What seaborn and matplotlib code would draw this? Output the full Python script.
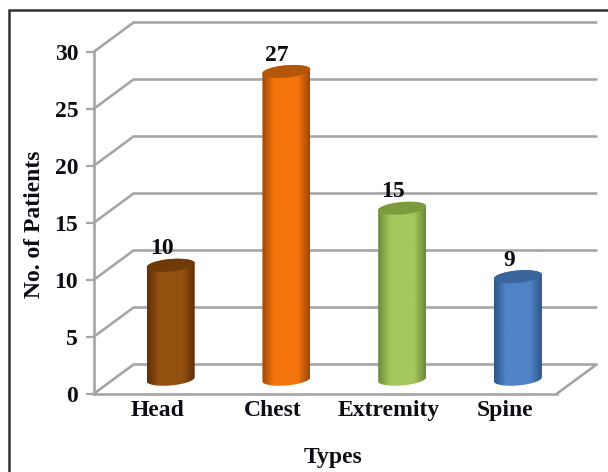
import numpy as np
import pandas as pd
import matplotlib
matplotlib.use("Agg")
import matplotlib.pyplot as plt
import seaborn as sns
from matplotlib.colors import LinearSegmentedColormap
from matplotlib.patches import Rectangle
from matplotlib.transforms import Affine2D

types = ["Head", "Chest", "Extremity", "Spine"]
patients = [10, 27, 15, 9]
body_colors = ["#94500F", "#F5740C", "#A6C75E", "#5084C8"]
edge_colors = ["#5F3008", "#A04A06", "#6E8A3A", "#2F5688"]
cap_colors = ["#6E3A08", "#B4560A", "#7C9A3E", "#3A659C"]
y_ticks = [0, 5, 10, 15, 20, 25, 30]

W, H = 608, 472
LEFT, RIGHT, Y0, Y30 = 93.5, 556.5, 394.0, 52.0
DEPTH_X, DEPTH_Y = 40.0, 29.5
GRID = "#A6A6A6"
INK = "#0C0C14"

sns.set_theme(style="white")
plt.rcParams["font.family"] = ["Liberation Serif", "DejaVu Serif"]
plt.rcParams["font.weight"] = "bold"

fig = plt.figure(figsize=(W / 100, H / 100), dpi=100)
ax = fig.add_axes([LEFT / W, 1 - Y0 / H, (RIGHT - LEFT) / W, (Y0 - Y30) / H])

frame = pd.DataFrame({"Types": types, "Patients": patients})
sns.barplot(data=frame, x="Types", y="Patients", hue="Types", palette=body_colors,
            legend=False, width=48 / 115.75, ax=ax, zorder=3, saturation=1)
ax.set_xlim(-0.5, 3.5)
ax.set_ylim(0, 30)
ax.set_facecolor("none")

px_per_cat = (RIGHT - LEFT) / 4
px_per_unit = (Y0 - Y30) / 30
dx_cat = DEPTH_X / px_per_cat
dy_val = DEPTH_Y / px_per_unit

# Back wall gridlines and the slanted side-wall lines for each tick
for v in y_ticks:
    ax.plot([-0.5, -0.5 + dx_cat, 3.5 + dx_cat], [v, v + dy_val, v + dy_val],
            color=GRID, lw=1.9, clip_on=False, zorder=1, solid_joinstyle="miter")
# Floor edge on the right
ax.plot([3.5, 3.5 + dx_cat], [0, dy_val], color=GRID, lw=1.9, clip_on=False, zorder=1)

for s in ("top", "right"):
    ax.spines[s].set_visible(False)
for s in ("left", "bottom"):
    ax.spines[s].set_color(GRID)
    ax.spines[s].set_linewidth(1.9)

# Cylinders sit halfway into the depth of the floor
shift = Affine2D().translate(DEPTH_X / 2 - 0.7, DEPTH_Y / 2)
for bar, body, edge, cap, value in zip(ax.patches, body_colors, edge_colors, cap_colors, patients):
    bar.set_visible(False)
    x0, w = bar.get_x(), bar.get_width()
    xc = x0 + w / 2
    tr = ax.transData + shift
    cmap = LinearSegmentedColormap.from_list("cyl", [edge, body, body, edge], N=64)
    ramp = np.interp(np.linspace(0, 1, 64), [0, 0.24, 0.5, 0.76, 1], [0, 0.33, 0.5, 0.67, 1])[None, :]
    # Outline of the curved side: straight walls closed by half-ellipses
    t = np.linspace(0, np.pi, 40)
    rx, ry = w / 2, 6.2 / px_per_unit
    slant = 2.0 / px_per_unit
    ex, ey = rx * np.cos(t), ry * np.sin(t) + slant * np.cos(t)
    outline_x = np.r_[xc + ex, xc - ex]
    outline_y = np.r_[value + ey, 0 - ey]
    side = plt.Polygon(np.c_[outline_x, outline_y], closed=True, transform=tr, fc="none", ec="none")
    ax.add_patch(side)
    img = ax.imshow(ramp, extent=[x0, x0 + w, -1, value + 1], cmap=cmap, vmin=0, vmax=1,
                    aspect="auto", transform=tr, zorder=3, interpolation="bilinear")
    img.set_clip_path(side)
    # Darker elliptical cap on top
    cap_x = np.r_[xc + ex, xc - ex]
    cap_y = np.r_[value + ey, value - ey]
    ax.fill(cap_x, cap_y, color=cap, transform=tr, zorder=4, clip_on=False, lw=0)
    ax.text(xc + dx_cat / 2 - 0.085, value + dy_val / 2 + 0.52, str(value), ha="center", va="bottom",
            fontsize=17, fontweight="bold", color=INK, zorder=5, clip_on=False)

ax.set_xlim(-0.5, 3.5)
ax.set_ylim(0, 30)

ax.set_yticks(y_ticks)
ax.set_xticks(range(4), types)
ax.tick_params(axis="y", length=6, width=1.6, color=GRID, labelsize=17, pad=5, left=True)
ax.tick_params(axis="x", length=0, labelsize=17, pad=4)
ax.set_xlabel("Types", fontsize=17, fontweight="bold", color=INK)
ax.set_ylabel("No. of Patients", fontsize=17, fontweight="bold", color=INK)
ax.xaxis.set_label_coords((333 - LEFT) / (RIGHT - LEFT), -(457 - Y0) / (Y0 - Y30), transform=ax.transAxes)
ax.xaxis.label.set_va("center")
ax.yaxis.set_label_coords((34 - LEFT) / (RIGHT - LEFT), (Y0 - 224) / (Y0 - Y30), transform=ax.transAxes)
ax.yaxis.label.set_va("center")

label_shift = Affine2D().translate(6, 0)
for lab in ax.get_xticklabels():
    lab.set_transform(lab.get_transform() + label_shift)
    lab.set_color(INK)
for lab in ax.get_yticklabels():
    lab.set_color(INK)

# Dark frame around the whole chart area
fig.add_artist(Rectangle((8.5 / W, -0.02), (W + 10) / W, 1 - 9.5 / H + 0.02, transform=fig.transFigure,
                         fc="none", ec="#333333", lw=1.8))

fig.savefig("out.png", dpi=100, facecolor="white")
